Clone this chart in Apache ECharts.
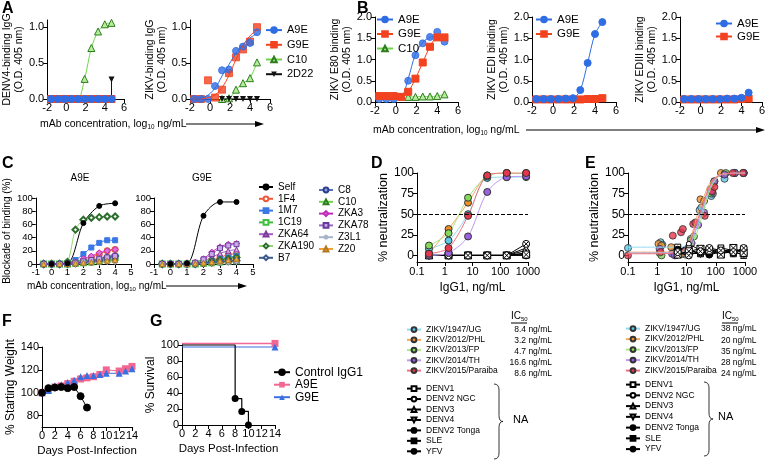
<!DOCTYPE html>
<html>
<head>
<meta charset="utf-8">
<title>mAb binding, neutralization and protection</title>
<script src="https://cdn.jsdelivr.net/npm/echarts@6/dist/echarts.min.js"></script>
<style>html,body{margin:0;padding:0;background:#fff}#main{width:768px;height:474px}</style>
</head>
<body>
<div id="main"></div>
<script>
var FONT = '"Liberation Sans", Arial, Helvetica, sans-serif';

// ---- A / B : ELISA, log10 ng/mL
var concA = [-1.6, -0.9, -0.2, 0.5, 1.2, 1.9, 2.6, 3.3, 4.0, 4.7];
var denv4A9E  = [0, 0, 0, 0, 0, 0, 0, 0, 0, 0];
var denv4G9E  = [0, 0, 0, 0, 0, 0, 0, 0, 0, 0];
var denv4C10  = [0, 0, 0, 0, 0, 0.28, 0.71, 0.94, 1.04, 1.06];
var denv42D22 = [null, null, null, null, 0, 0, 0, 0, 0, 0.27];
var zikvA9E   = [0, 0, 0, 0.18, 0.40, 0.41, 0.67, 0.73, 0.78, 0.93];
var zikvG9E   = [0, 0, 0.26, 0.02, 0.13, 0.36, 0.58, 0.69, 0.80, 1.0];
var zikvC10   = [null, null, null, null, 0, 0.01, 0.13, 0.22, 0.29, 0.51];
var zikv2D22  = [null, null, null, null, 0, 0, 0, 0, 0, 0];
var e80A9E    = [0.07, 0.07, 0.07, 0.12, 0.50, 1.10, 1.38, 1.53, 1.65, 1.42];
var e80G9E    = [0.14, 0.14, 0.14, 0.12, 0.24, 0.55, 0.93, 1.30, 1.52, 1.52];
var e80C10    = [null, null, null, null, 0.12, 0.12, 0.13, 0.13, 0.14, 0.18];
var ediA9E    = [0.07, 0.07, 0.07, 0.07, 0.08, 0.09, 0.28, 0.92, 1.60, 1.88];
var ediG9E    = [0.06, 0.06, 0.06, 0.06, 0.06, 0.06, 0.06, 0.07, 0.07, 0.09];
var ediiiA9E  = [0.07, 0.07, 0.07, 0.07, 0.07, 0.07, 0.08, 0.08, 0.10, 0.22];
var ediiiG9E  = [0.06, 0.06, 0.06, 0.06, 0.06, 0.06, 0.06, 0.06, 0.07, 0.08];
// fitted curves as drawn in the figure
var fitConcA = [-1.6, -0.5, 0.5, 1.2, 1.9, 2.6, 3.3, 4.0, 4.7];
var fitZikvA9E = [0, 0.03, 0.15, 0.32, 0.48, 0.64, 0.76, 0.85, 0.91];
var fitZikvG9E = [0, 0.01, 0.06, 0.16, 0.33, 0.55, 0.74, 0.88, 0.96];
var fitE80A9E  = [0.07, 0.07, 0.12, 0.55, 1.12, 1.40, 1.52, 1.55, 1.56];

// ---- C : competition, log10 ng/mL
var concC = [-0.5, 0, 0.5, 1, 1.5, 2, 2.5, 3, 3.5, 4];
var concSelf = [0, 1, 2, 3, 4];
var selfA9E = [0, 1, 62, 88, 92];
var selfG9E = [0, 1, 73, 94, 94];
var cNames = ['1F4', '1M7', '1C19', 'ZKA64', 'ZKA190', 'B7', 'C8', 'C10', 'ZKA3', 'ZKA78', 'Z3L1', 'Z20'];
var blockA9E = [
  [0, 0, 0, 1, 2, 5, 10, 15, 20, 22],
  [0, 0, 0, 2, 6, 15, 25, 32, 36, 36],
  [0, 0, 0, 0, 1, 2, 3, 5, 8, 10],
  [0, 0, 0, 0, 2, 4, 6, 8, 12, 15],
  [0, 0, 0, 3, 52, 67, 70, 71, 72, 72],
  [0, 0, 0, 0, 1, 2, 4, 6, 10, 12],
  [0, 0, 0, 0, 0, 1, 2, 4, 6, 8],
  [0, 0, 0, 0, 0, 1, 2, 3, 4, 5],
  [0, 0, 0, 1, 3, 8, 12, 17, 20, 22],
  [0, 0, 0, 0, 2, 4, 6, 8, 10, 12],
  [0, 0, 0, 0, 0, 1, 2, 2, 3, 3],
  [0, 0, 0, 0, 1, 2, 3, 4, 5, 6]
];
var blockG9E = [
  [0, 0, 0, 0, 1, 3, 6, 10, 14, 16],
  [0, 0, 0, 0, 1, 3, 5, 8, 10, 12],
  [0, 0, 0, 0, 0, 1, 2, 3, 4, 5],
  [0, 0, 0, 0, 1, 4, 10, 16, 20, 22],
  [0, 0, 0, 0, 1, 2, 4, 6, 8, 10],
  [0, 0, 0, 0, 0, 1, 2, 3, 4, 5],
  [0, 0, 0, 0, 0, 1, 2, 3, 5, 6],
  [0, 0, 0, 0, 0, 0, 1, 2, 3, 4],
  [0, 0, 0, 0, 2, 8, 18, 26, 30, 31],
  [0, 0, 0, 0, 2, 7, 15, 24, 28, 30],
  [0, 0, 0, 0, 0, 1, 1, 2, 2, 3],
  [0, 0, 0, 0, 1, 2, 3, 5, 6, 8]
];

// ---- D / E : neutralization, ng/mL
var zikNames = ['ZIKV/1947/UG', 'ZIKV/2012/PHL', 'ZIKV/2013/FP', 'ZIKV/2014/TH', 'ZIKV/2015/Paraiba'];
var flaviNames = ['DENV1', 'DENV2 NGC', 'DENV3', 'DENV4', 'DENV2 Tonga', 'SLE', 'YFV'];
var ic50D = ['8.4 ng/mL', '3.2 ng/mL', '4.7 ng/mL', '16.6 ng/mL', '8.6 ng/mL'];
var ic50E = ['38 ng/mL', '20 ng/mL', '35 ng/mL', '28 ng/mL', '24 ng/mL'];

var concD = [0.27, 1.37, 6.9, 34, 171, 857];
var neutD = [
  [8, 18, 50, 94, 95, 95],
  [2, 32, 64, 97, 100, 100],
  [12, 27, 70, 96, 100, 99],
  [0, 3, 23, 77, 95, 96],
  [2, 9, 48, 97, 100, 100]
];
var neutDflavi = [
  [0, 0, 0, 0, 0, 3],
  [0, 0, 0, 0, 0, 6],
  [0, 0, 0, 0, 0, 2],
  [0, 0, 0, 0, 0, 9],
  [0, 0, 0, 0, 0, 0],
  [0, 0, 0, 0, 0, 1],
  [0, 0, 0, 0, 0, 14]
];

var concE = [
  [0.1, 1.3, 1.5, 3.6, 9, 14, 28, 32, 70, 80, 200, 450, 900],
  [1.1, 1.4, 3.0, 7, 12, 30, 40, 65, 90, 150, 200, 450, 900],
  [1.2, 1.4, 3.5, 8, 14, 18, 35, 70, 85, 220, 450, 900],
  [1.2, 3.2, 4, 9, 15, 25, 40, 75, 90, 200, 450, 900],
  [0.1, 1.3, 3.4, 6.5, 7.5, 17, 20, 42, 75, 90, 380, 850]
];
var neutE = [
  [9, 16, 13, 4, 1, 20, 55, 58, 72, 75, 93, 100, 100],
  [14, 12, 10, 2, 10, 68, 66, 80, 90, 100, 99, 100, 100],
  [3, 0, 2, 5, 18, 23, 50, 75, 88, 100, 100, 100],
  [8, 2, 0, 5, 15, 37, 52, 77, 90, 98, 100, 100],
  [0, 4, 24, 28, 32, 38, 40, 48, 78, 83, 100, 100]
];
var fitConcE = [0.1, 1, 5, 10, 15, 20, 25, 30, 40, 60, 100, 200, 1000];
var fitE = [
  [10, 10, 10, 12, 18, 28, 38, 47, 60, 80, 93, 99, 100],
  [4, 4, 5, 10, 25, 40, 52, 60, 72, 86, 95, 99, 100],
  [3, 3, 4, 6, 12, 22, 32, 42, 56, 77, 92, 99, 100],
  [3, 3, 4, 8, 18, 30, 42, 50, 64, 82, 94, 99, 100],
  [2, 2, 4, 10, 22, 35, 45, 53, 66, 83, 94, 99, 100]
];
var concEflavi = [5, 12, 30, 60, 150, 400, 900];
var neutEflavi = [
  [10, 3, 2, 5, 8, 2, 8],
  [5, 14, 6, 3, 5, 7, 4],
  [2, 6, 3, 8, 2, 5, 0],
  [0, 8, 1, 2, 9, 6, 6],
  [7, 2, 4, 1, 4, 3, 2],
  [1, 5, 8, 6, 1, 9, 3],
  [4, 0, 5, 9, 6, 4, 9]
];

// ---- F : weight, G : survival
var daysF = [0, 1, 2, 3, 4, 5, 6, 7, 8, 9, 10, 12, 13, 14];
var wtA9E = [100, 103, 105, 106, 108, 110, 112, 113, 114, 116, 120, 119, 121, 123];
var wtG9E = [100, 102, 106, 107, 109, 111, 114, 115, 115, 116, 117, 117, 119, 121];
var daysCtrl = [0, 1, 2, 3, 4, 5, 6, 7];
var wtCtrl = [100, 104, 104.5, 105, 104, 105, 97, 87];
var survDaysCtrl = [0, 8, 9, 10];
var survCtrl = [100, 33, 17, 0];
var survDaysAb = [0, 14];
var survA9E = [102, 102];
var survG9E = [97.5, 97.5];

// ---------------------------------------------------------------
function pts(xs, ys) {
  var out = [];
  for (var i = 0; i < xs.length; i++) if (ys[i] != null) out.push([xs[i], ys[i]]);
  return out;
}
function ser(name, gi, data, sty) {
  var s = {
    name: name, type: 'line', xAxisIndex: gi, yAxisIndex: gi, data: data,
    smooth: 0.3, symbol: 'circle', symbolSize: 6,
    lineStyle: { width: 1 }, animation: false
  };
  for (var k in sty) s[k] = sty[k];
  return s;
}
function dots(name, gi, data, st) {
  return { name: name, type: 'scatter', xAxisIndex: gi, yAxisIndex: gi, data: data, animation: false,
    symbol: st.symbol, symbolSize: st.symbolSize, symbolRotate: st.symbolRotate || 0, itemStyle: st.itemStyle };
}
function fit(gi, data, color) {
  return { type: 'line', xAxisIndex: gi, yAxisIndex: gi, data: data, smooth: 0.4, showSymbol: false,
    animation: false, silent: true, lineStyle: { color: color, width: 1 } };
}
function axis(extra) {
  var a = {
    axisLine: { show: true, onZero: false, lineStyle: { color: '#000', width: 1 } },
    axisTick: { show: true, inside: false, length: 4, lineStyle: { color: '#000', width: 1 } },
    axisLabel: { color: '#000', fontFamily: FONT, fontSize: 11, margin: 3 },
    splitLine: { show: false },
    nameTextStyle: { color: '#000', fontFamily: FONT, fontSize: 10.5, lineHeight: 12 }
  };
  for (var k in extra) {
    if (a[k] && typeof extra[k] === 'object' && !Array.isArray(extra[k])) {
      var m = {}; for (var j in a[k]) m[j] = a[k][j]; for (var j2 in extra[k]) m[j2] = extra[k][j2]; a[k] = m;
    } else a[k] = extra[k];
  }
  return a;
}
function sty(color, symbol, size, fill, border, lineColor) {
  return {
    symbol: symbol, symbolSize: size,
    itemStyle: { color: fill || color, borderColor: border || color, borderWidth: 1 },
    lineStyle: { color: lineColor || color, width: 1 }
  };
}
var BLUE = '#2f6de4', RED = '#f2421f';
var stA9E = sty(BLUE, 'circle', 7);
var stG9E = sty(RED, 'rect', 7);
var stC10 = sty('#2d7d1f', 'triangle', 7, '#b5ee98', '#2d7d1f', '#6fd44a');
var st2D22 = { symbol: 'triangle', symbolRotate: 180, symbolSize: 6, smooth: false, step: 'end',
  itemStyle: { color: '#111' }, lineStyle: { color: '#111', width: 1 } };

var grids = [
  { left: 45, top: 20, width: 79, height: 79 },
  { left: 190, top: 20, width: 80, height: 79 },
  { left: 375, top: 17, width: 83, height: 85 },
  { left: 532, top: 17, width: 84, height: 85 },
  { left: 680, top: 17, width: 84, height: 85 },
  { left: 32, top: 198, width: 99, height: 66 },
  { left: 154, top: 198, width: 99, height: 66 },
  { left: 417, top: 173, width: 111, height: 89 },
  { left: 628, top: 173, width: 117, height: 89 },
  { left: 42, top: 347, width: 90, height: 80 },
  { left: 182, top: 345, width: 93, height: 80 }
];

var logLabel = function (v) { return v < 1 ? String(v) : String(Math.round(v)); };
var xLog = function (gi) {
  return axis({ type: 'log', gridIndex: gi, min: 0.1, max: 1000, logBase: 10,
    axisLabel: { fontSize: 11, margin: 4, formatter: logLabel },
    name: 'IgG1, ng/mL', nameLocation: 'middle', nameGap: 20,
    nameTextStyle: { fontSize: 12 } });
};
var xAxes = [
  axis({ type: 'value', gridIndex: 0, min: -2, max: 6, interval: 2 }),
  axis({ type: 'value', gridIndex: 1, min: -2, max: 6, interval: 2 }),
  axis({ type: 'value', gridIndex: 2, min: -2, max: 6, interval: 2 }),
  axis({ type: 'value', gridIndex: 3, min: -2, max: 6, interval: 2 }),
  axis({ type: 'value', gridIndex: 4, min: -2, max: 6, interval: 2 }),
  axis({ type: 'value', gridIndex: 5, min: -1, max: 5, interval: 1, axisLabel: { fontSize: 9.5 } }),
  axis({ type: 'value', gridIndex: 6, min: -1, max: 5, interval: 1, axisLabel: { fontSize: 9.5 } }),
  xLog(7), xLog(8),
  axis({ type: 'value', gridIndex: 9, min: 0, max: 14, interval: 2, axisLabel: { fontSize: 11 },
    name: 'Days Post-Infection', nameLocation: 'middle', nameGap: 18, nameTextStyle: { fontSize: 11.5 } }),
  axis({ type: 'value', gridIndex: 10, min: 0, max: 14, interval: 2, axisLabel: { fontSize: 11 },
    name: 'Days Post-Infection', nameLocation: 'middle', nameGap: 18, nameTextStyle: { fontSize: 11.5 } })
];
var od = function (v) { return v.toFixed(1); };
var yOD = function (gi, name, gap, max, ticks) {
  var o = { type: 'value', gridIndex: gi, min: 0, max: max,
    name: name, nameLocation: 'middle', nameRotate: 90, nameGap: gap,
    axisLabel: { formatter: od } };
  if (ticks) { o.axisLabel.customValues = ticks; o.axisTick = { customValues: ticks }; }
  else o.interval = 0.5;
  return axis(o);
};
var pct = [0, 25, 50, 75, 100];
var yAxes = [
  yOD(0, 'DENV4-binding IgG\n(O.D. 405 nm)', 20, 1.1, [0, 0.5, 1.0]),
  yOD(1, 'ZIKV-binding IgG\n(O.D. 405 nm)', 22, 1.1, [0, 0.5, 1.0]),
  yOD(2, 'ZIKV E80 binding\n(O.D. 405 nm)', 22, 2),
  yOD(3, 'ZIKV EDI binding\n(O.D. 405 nm)', 20, 2),
  yOD(4, 'ZIKV EDIII binding\n(O.D. 405 nm)', 20, 2),
  axis({ type: 'value', gridIndex: 5, min: 0, max: 100, interval: 20, axisLabel: { fontSize: 9.5 },
    name: 'Blockade of binding (%)', nameLocation: 'middle', nameRotate: 90, nameGap: 20, nameTextStyle: { fontSize: 10 } }),
  axis({ type: 'value', gridIndex: 6, min: 0, max: 100, interval: 20, axisLabel: { fontSize: 9.5 } }),
  axis({ type: 'value', gridIndex: 7, min: -8, max: 100, axisLabel: { fontSize: 12, customValues: pct }, axisTick: { customValues: pct },
    name: '% neutralization', nameLocation: 'middle', nameRotate: 90, nameGap: 24, nameTextStyle: { fontSize: 12.5 } }),
  axis({ type: 'value', gridIndex: 8, min: -8, max: 100, axisLabel: { fontSize: 12, customValues: pct }, axisTick: { customValues: pct },
    name: '% neutralization', nameLocation: 'middle', nameRotate: 90, nameGap: 24, nameTextStyle: { fontSize: 12.5 } }),
  axis({ type: 'value', gridIndex: 9, min: 70, max: 140, axisLabel: { fontSize: 11, customValues: [80, 100, 120, 140] },
    axisTick: { customValues: [80, 100, 120, 140] },
    name: '% Starting Weight', nameLocation: 'middle', nameRotate: 90, nameGap: 25, nameTextStyle: { fontSize: 12 } }),
  axis({ type: 'value', gridIndex: 10, min: 0, max: 100, interval: 20, axisLabel: { fontSize: 11 },
    name: '% Survival', nameLocation: 'middle', nameRotate: 90, nameGap: 22, nameTextStyle: { fontSize: 12 } })
];

var series = [];
// A
series.push(ser('C10', 0, pts(concA, denv4C10), stC10));
series.push(ser('2D22', 0, pts(concA, denv42D22), st2D22));
series.push(ser('G9E', 0, pts(concA, denv4G9E), stG9E));
series.push(ser('A9E', 0, pts(concA, denv4A9E), stA9E));
series.push(ser('C10', 1, pts(concA, zikvC10), stC10));
series.push(ser('2D22', 1, pts(concA, zikv2D22), st2D22));
series.push(fit(1, pts(fitConcA, fitZikvG9E), RED));
series.push(fit(1, pts(fitConcA, fitZikvA9E), BLUE));
series.push(dots('G9E', 1, pts(concA, zikvG9E), stG9E));
series.push(dots('A9E', 1, pts(concA, zikvA9E), stA9E));
// B
series.push(ser('C10', 2, pts(concA, e80C10), stC10));
series.push(ser('G9E', 2, pts(concA, e80G9E), stG9E));
series.push(fit(2, pts(fitConcA, fitE80A9E), BLUE));
series.push(dots('A9E', 2, pts(concA, e80A9E), stA9E));
series.push(ser('G9E', 3, pts(concA, ediG9E), stG9E));
series.push(ser('A9E', 3, pts(concA, ediA9E), stA9E));
series.push(ser('G9E', 4, pts(concA, ediiiG9E), stG9E));
series.push(ser('A9E', 4, pts(concA, ediiiA9E), stA9E));

// C
var cStyles = [
  sty('#f0583a', 'emptyCircle', 5),
  sty('#3a78e6', 'rect', 5),
  sty('#3fbf3f', 'emptyRect', 5),
  sty('#7a3a9a', 'triangle', 5, '#d9a8e8', '#7a3a9a', '#a65cc4'),
  sty('#2c6e2c', 'emptyDiamond', 6, null, null, '#8fd66f'),
  sty('#3b5a8c', 'emptyDiamond', 6),
  sty('#2c3e8c', 'circle', 5, '#8ea0e0', '#2c3e8c', '#5a70c0'),
  sty('#6e5a1a', 'circle', 5, '#c8a040', '#6e5a1a', '#b89030'),
  sty('#c02cb8', 'diamond', 6, '#e070d8', '#c02cb8'),
  sty('#6a3a9a', 'rect', 5, '#c8a8e8', '#6a3a9a', '#9a6ac8'),
  sty('#a8b4c8', 'path://M5 0L5 10M0 5L10 5M1.5 1.5L8.5 8.5M8.5 1.5L1.5 8.5', 6, '#a8b4c8', '#a8b4c8'),
  sty('#b07820', 'triangle', 5, '#f0b040', '#b07820', '#f0a030')
];
var stSelf = sty('#000', 'circle', 5);
cNames.forEach(function (n, i) {
  series.push(ser(n, 5, pts(concC, blockA9E[i]), cStyles[i]));
  series.push(ser(n, 6, pts(concC, blockG9E[i]), cStyles[i]));
});
series.push(ser('Self', 5, pts(concSelf, selfA9E), stSelf));
series.push(ser('Self', 6, pts(concSelf, selfG9E), stSelf));

// D / E
var zColors = ['#5ec8e8', '#f0902a', '#84d85a', '#9a60e0', '#e6364c'];
var zLines = ['#8fdaf0', '#f4a860', '#a8e888', '#c098f0', '#f07080'];
function zSty(i) {
  return { symbol: 'circle', symbolSize: 7,
    itemStyle: { color: zColors[i], borderColor: '#333', borderWidth: 1 },
    lineStyle: { color: zLines[i], width: 1 } };
}
var flaviSym = ['rect', 'circle', 'triangle', 'triangle', 'circle',
  'path://M0 0H10V10H0ZM0 0L10 10M10 0L0 10',
  'path://M10 5A5 5 0 1 1 0 5A5 5 0 1 1 10 5ZM1.5 1.5L8.5 8.5M8.5 1.5L1.5 8.5'];
var flaviSize = [6, 5, 6, 6, 7, 7, 7];
function fSty(i) {
  return { symbol: flaviSym[i], symbolSize: flaviSize[i], symbolRotate: i === 3 ? 180 : 0,
    smooth: false,
    itemStyle: { color: i === 4 ? '#000' : '#fff', borderColor: '#000', borderWidth: 1 },
    lineStyle: { color: '#000', width: 1 } };
}
var dash = { silent: true, symbol: 'none', label: { show: false },
  lineStyle: { color: '#000', type: 'dashed', width: 1 }, data: [{ yAxis: 50 }] };
flaviNames.forEach(function (n, i) { series.push(ser(n, 7, pts(concD, neutDflavi[i]), fSty(i))); });
zikNames.forEach(function (n, i) {
  var s = ser(n, 7, pts(concD, neutD[i]), zSty(i));
  if (i === 0) s.markLine = dash;
  series.push(s);
});
flaviNames.forEach(function (n, i) { series.push(ser(n, 8, pts(concEflavi, neutEflavi[i]), fSty(i))); });
zikNames.forEach(function (n, i) {
  var c = fit(8, pts(fitConcE, fitE[i]), zLines[i]);
  if (i === 0) c.markLine = dash;
  series.push(c);
});
zikNames.forEach(function (n, i) { series.push(dots(n, 8, pts(concE[i], neutE[i]), zSty(i))); });

// F / G
var PINK = '#f26892', FBLUE = '#3a6fe2';
var stCtrl = sty('#000', 'circle', 7);
stCtrl.smooth = false;
series.push(ser('A9E ', 9, pts(daysF, wtA9E), { symbol: 'rect', symbolSize: 7, smooth: false,
  itemStyle: { color: PINK }, lineStyle: { color: PINK, width: 1 } }));
series.push(ser('G9E ', 9, pts(daysF, wtG9E), { symbol: 'triangle', symbolSize: 7, smooth: false,
  itemStyle: { color: FBLUE }, lineStyle: { color: FBLUE, width: 1 } }));
series.push(ser('Control IgG1', 9, pts(daysCtrl, wtCtrl), stCtrl));

function km(xs, ys) {
  return pts(xs, ys).map(function (p, i) { return i === 0 ? { value: p, symbol: 'none' } : p; });
}
series.push(ser('A9E ', 10, km(survDaysAb, survA9E), { symbol: 'rect', symbolSize: 7, smooth: false, step: 'end', clip: false,
  itemStyle: { color: PINK }, lineStyle: { color: PINK, width: 1.5 } }));
series.push(ser('G9E ', 10, km(survDaysAb, survG9E), { symbol: 'triangle', symbolSize: 7, smooth: false, step: 'end', clip: false,
  itemStyle: { color: FBLUE }, lineStyle: { color: FBLUE, width: 1.2 } }));
series.push(ser('Control IgG1', 10, km(survDaysCtrl, survCtrl), { symbol: 'circle', symbolSize: 7, smooth: false, step: 'end', clip: false,
  itemStyle: { color: '#000' }, lineStyle: { color: '#000', width: 1.2 } }));

// legends
function leg(names, left, top, fs, ih, gap, iw) {
  return { data: names, left: left, top: top, orient: 'vertical', selectedMode: false,
    itemWidth: iw || 16, itemHeight: ih, itemGap: gap, padding: 0,
    textStyle: { fontFamily: FONT, fontSize: fs, color: '#000' },
    formatter: function (n) { return n.trim(); } };
}
var legends = [
  leg(['A9E', 'G9E', 'C10', '2D22'], 265, 24.6, 11, 7, 3.7),
  leg(['A9E', 'G9E', 'C10'], 376, 13.5, 11.5, 7, 2.5),
  leg(['A9E', 'G9E'], 535, 13.5, 11.5, 7, 2.5),
  leg(['A9E', 'G9E'], 715, 17.5, 11.5, 7, 1),
  leg(['Self', '1F4', '1M7', '1C19', 'ZKA64', 'ZKA190', 'B7'], 258, 182, 10, 6, 1.8, 14),
  leg(['C8', 'C10', 'ZKA3', 'ZKA78', 'Z3L1', 'Z20'], 318, 185, 10, 6, 1.8, 14),
  leg(zikNames, 406, 325.1, 8.5, 6, 1.25, 14),
  leg(flaviNames, 406, 384.1, 8.5, 6, 1.45, 14),
  leg(zikNames, 625, 324.1, 8.5, 6, 1.5, 14),
  leg(flaviNames, 625, 380.1, 8.5, 6, 1.75, 14),
  leg(['Control IgG1', 'A9E ', 'G9E '], 273, 366.2, 12, 7, 0.5)
];

// text annotations
var g = [];
function txt(x, y, s, font, align) {
  g.push({ type: 'text', x: x, y: y, silent: true,
    style: { text: s, font: font, fill: '#000', align: align || 'left', verticalAlign: 'middle' } });
}
function richTxt(x, y, parts, size) {
  g.push({ type: 'text', x: x, y: y, silent: true,
    style: { text: parts, fill: '#000', verticalAlign: 'middle',
      rich: { a: { fontFamily: FONT, fontSize: size }, b: { fontFamily: FONT, fontSize: size * 0.6, padding: [size * 0.6, 0, 0, 0] } } } });
}
function ln(x1, y1, x2, y2, w) {
  g.push({ type: 'line', silent: true, shape: { x1: x1, y1: y1, x2: x2, y2: y2 }, style: { stroke: '#000', lineWidth: w || 1 } });
}
function arrow(x1, x2, y) {
  ln(x1, y, x2 - 6, y);
  g.push({ type: 'polygon', silent: true, shape: { points: [[x2 - 9, y - 3], [x2, y], [x2 - 9, y + 3]] }, style: { fill: '#000' } });
}
function curve(x1, y1, cx, cy, x2, y2) {
  g.push({ type: 'bezierCurve', silent: true, shape: { x1: x1, y1: y1, cpx1: cx, cpy1: cy, x2: x2, y2: y2 },
    style: { stroke: '#000', fill: null, lineWidth: 0.8 } });
}
function brace(x, y, h) {
  var m = y + h / 2;
  curve(x, y, x + 5, y, x + 5, y + 6);
  ln(x + 5, y + 6, x + 5, m - 6, 0.8);
  curve(x + 5, m - 6, x + 5, m, x + 9, m);
  curve(x + 9, m, x + 5, m, x + 5, m + 6);
  ln(x + 5, m + 6, x + 5, y + h - 6, 0.8);
  curve(x + 5, y + h - 6, x + 5, y + h, x, y + h);
}
var bold = 'bold 16px ' + FONT;
txt(2, 9, 'A', bold); txt(357, 9, 'B', bold); txt(2, 164, 'C', bold);
txt(371, 164, 'D', bold); txt(585, 164, 'E', bold); txt(2, 322, 'F', bold); txt(150, 322, 'G', bold);
var mab = '{a|mAb concentration, log}{b|10}{a| ng/mL}';
richTxt(40, 124, mab, 10.5); arrow(186, 264, 124);
richTxt(373, 130, mab, 10.5); arrow(526, 765, 130);
richTxt(27, 286, mab, 10); arrow(166, 247, 286);
txt(80, 178, 'A9E', '10px ' + FONT, 'center');
txt(202, 178, 'G9E', '10px ' + FONT, 'center');

ic50D.forEach(function (v, i) { txt(552, 330 + i * 11, v, '8.5px ' + FONT, 'right'); });
ic50E.forEach(function (v, i) { txt(721, 329 + i * 11.2, v, '8.5px ' + FONT, 'left'); });
richTxt(511, 316, '{a|IC}{b|50}', 10);
richTxt(722, 316, '{a|IC}{b|50}', 10);
ln(511, 323, 527, 323); ln(722, 323, 738, 323);
brace(494, 384, 75); brace(704, 382, 74);
txt(513, 420, 'NA', '11px ' + FONT); txt(718, 417, 'NA', '11px ' + FONT);

var chart = echarts.init(document.getElementById('main'));
chart.setOption({
  animation: false,
  backgroundColor: '#fff',
  grid: grids,
  xAxis: xAxes,
  yAxis: yAxes,
  legend: legends,
  series: series,
  graphic: g
});
</script>
</body>
</html>
